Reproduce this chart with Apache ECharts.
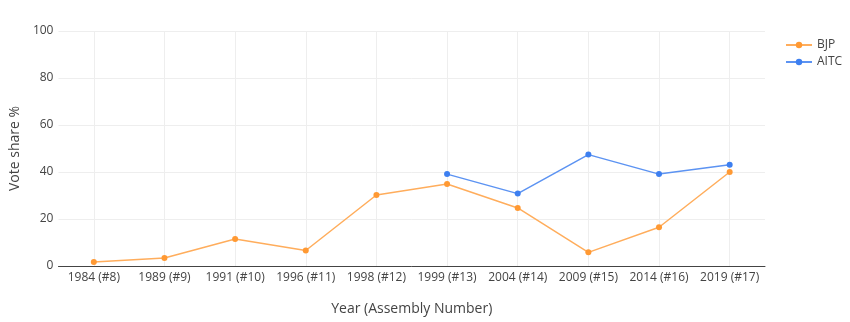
<!DOCTYPE html>
<html><head><meta charset="utf-8">
<script src="https://cdn.jsdelivr.net/npm/echarts@6/dist/echarts.min.js"></script>
<style>html,body{margin:0;padding:0;background:#fff}#c{width:850px;height:322px}</style>
</head><body><div id="c"></div>
<script>
const categories = ['1984 (#8)','1989 (#9)','1991 (#10)','1996 (#11)','1998 (#12)','1999 (#13)','2004 (#14)','2009 (#15)','2014 (#16)','2019 (#17)'];
const bjp = [1.7, 3.4, 11.5, 6.6, 30.2, 34.9, 24.7, 5.8, 16.5, 40.0];
const aitc = [null, null, null, null, null, 39.1, 30.8, 47.4, 39.1, 43.1];
const yTicks = [0, 20, 40, 60, 80, 100];

const font = '"Open Sans", sans-serif';
const chart = echarts.init(document.getElementById('c'));
chart.setOption({
  animation: false,
  textStyle: { fontFamily: font },
  grid: { left: 54, right: 85, top: 31, bottom: 56 },
  legend: {
    orient: 'vertical', left: 780, top: 34, itemGap: 5, itemWidth: 26, itemHeight: 8,
    textStyle: { fontFamily: font, fontSize: 12, color: '#444' },
    data: ['BJP', 'AITC']
  },
  xAxis: {
    type: 'category', data: categories, boundaryGap: true,
    name: 'Year (Assembly Number)', nameLocation: 'middle', nameGap: 36,
    nameTextStyle: { fontFamily: font, fontSize: 14, color: '#444' },
    axisLine: { lineStyle: { color: '#444', width: 1 } },
    axisTick: { show: false },
    axisLabel: { color: '#444', fontSize: 12, fontFamily: font, margin: 6, interval: 0 },
    splitLine: { show: false }
  },
  yAxis: {
    type: 'value', min: 0, max: 100, interval: 20,
    name: 'Vote share %', nameLocation: 'middle', nameGap: 36,
    nameTextStyle: { fontFamily: font, fontSize: 14, color: '#444' },
    axisLine: { show: false }, axisTick: { show: false },
    axisLabel: { color: '#444', fontSize: 12, fontFamily: font, margin: 5,
      formatter: v => yTicks.includes(v) ? String(v) : '' },
    splitLine: { lineStyle: { color: '#eee', width: 1 } }
  },
  series: [
    {
      name: 'BJP', type: 'line', data: bjp, symbol: 'circle', symbolSize: 6,
      itemStyle: { color: '#ff9933' }, lineStyle: { color: '#ffad5c', width: 1.5 },
      markLine: {
        silent: true, symbol: 'none', label: { show: false }, z: 0,
        lineStyle: { color: '#eee', width: 1, type: 'solid' },
        data: categories.map(c => ({ xAxis: c }))
      }
    },
    {
      name: 'AITC', type: 'line', data: aitc, symbol: 'circle', symbolSize: 6,
      itemStyle: { color: '#3d7ff0' }, lineStyle: { color: '#5c93f2', width: 1.5 }
    }
  ]
});
</script></body></html>
